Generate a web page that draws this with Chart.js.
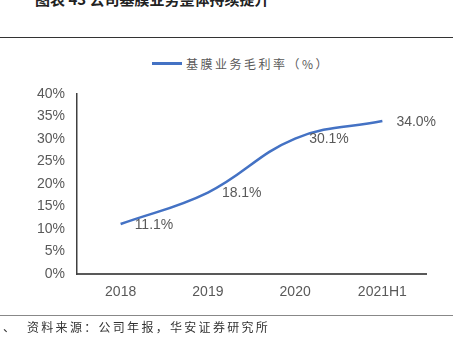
<!DOCTYPE html>
<html>
<head>
<meta charset="utf-8">
<script src="https://cdn.jsdelivr.net/npm/chart.js@4/dist/chart.umd.min.js"></script>
<style>
  html, body { margin: 0; padding: 0; background: #fff; }
  #wrap { position: relative; width: 471px; height: 338px; overflow: hidden; font-family: "Noto Sans CJK SC", "Liberation Sans", sans-serif; }
  #chart { position: absolute; left: 0; top: 0; }
  .title { position: absolute; left: 35px; top: -12px; font-size: 15px; font-weight: bold; color: #222; white-space: nowrap; }
  .rule-top { position: absolute; left: 0; top: 37px; width: 453px; height: 1px; background: #333; }
  .rule-bot { position: absolute; left: 0; top: 315px; width: 453px; height: 1px; background: #888; }
  .legend { position: absolute; left: 152px; top: 55px; font-size: 12px; color: #595959; white-space: nowrap; }
  .legend i { display: inline-block; width: 30px; height: 3px; background: #4472C4; vertical-align: middle; margin-right: 4px; position: relative; top: -2px; }
  .legend span { letter-spacing: 2.5px; }
  .source { position: absolute; left: 3px; top: 318px; font-size: 12px; color: #333; white-space: nowrap; }
  .source span { position: absolute; left: 24px; letter-spacing: 2.3px; }
</style>
</head>
<body>
<div id="wrap">
  <div class="title">图表 43 公司基膜业务整体持续提升</div>
  <div class="rule-top"></div>
  <div class="legend"><i></i><span>基膜业务毛利率（%）</span></div>
  <canvas id="chart" width="471" height="338"></canvas>
  <div class="rule-bot"></div>
  <div class="source">、<span>资料来源：公司年报，华安证券研究所</span></div>
</div>
<script>
const categories = ['2018', '2019', '2020', '2021H1'];
const margin = [11.1, 18.1, 30.1, 34.0];
const yTicks = [0, 5, 10, 15, 20, 25, 30, 35, 40];

// value labels to the right of each point
const pointLabels = {
  id: 'pointLabels',
  afterDatasetsDraw(chart) {
    const ctx = chart.ctx;
    const meta = chart.getDatasetMeta(0);
    ctx.save();
    ctx.font = '14px "Liberation Sans", Arial, sans-serif';
    ctx.fillStyle = '#595959';
    ctx.textAlign = 'left';
    ctx.textBaseline = 'middle';
    meta.data.forEach((pt, i) => {
      ctx.fillText(margin[i].toFixed(1) + '%', pt.x + 14, pt.y + 1);
    });
    ctx.restore();
  }
};

new Chart(document.getElementById('chart'), {
  type: 'line',
  data: {
    labels: categories,
    datasets: [{
      data: margin,
      borderColor: '#4472C4',
      borderWidth: 2.5,
      tension: 0.4,
      pointRadius: 0,
      fill: false,
    }],
  },
  options: {
    responsive: false,
    animation: false,
    layout: { padding: { top: 94, right: 45, left: 0, bottom: 0 } },
    plugins: { legend: { display: false }, tooltip: { enabled: false } },
    scales: {
      x: {
        offset: true,
        grid: { display: false, drawTicks: false },
        border: { color: '#595959', width: 2 },
        ticks: { color: '#595959', font: { family: '"Liberation Sans", Arial, sans-serif', size: 14 }, padding: 10 },
        afterFit: (s) => { s.height = 64; },
      },
      y: {
        min: 0, max: 40,
        afterBuildTicks: (s) => { s.ticks = yTicks.map(v => ({ value: v })); },
        grid: { display: false, drawTicks: false },
        border: { color: '#404040', width: 1.5 },
        ticks: { color: '#595959', font: { family: '"Liberation Sans", Arial, sans-serif', size: 14 }, padding: 12, callback: v => v + '%' },
        afterFit: (s) => { s.width = 77; },
      },
    },
  },
  plugins: [pointLabels],
});
</script>
</body>
</html>
